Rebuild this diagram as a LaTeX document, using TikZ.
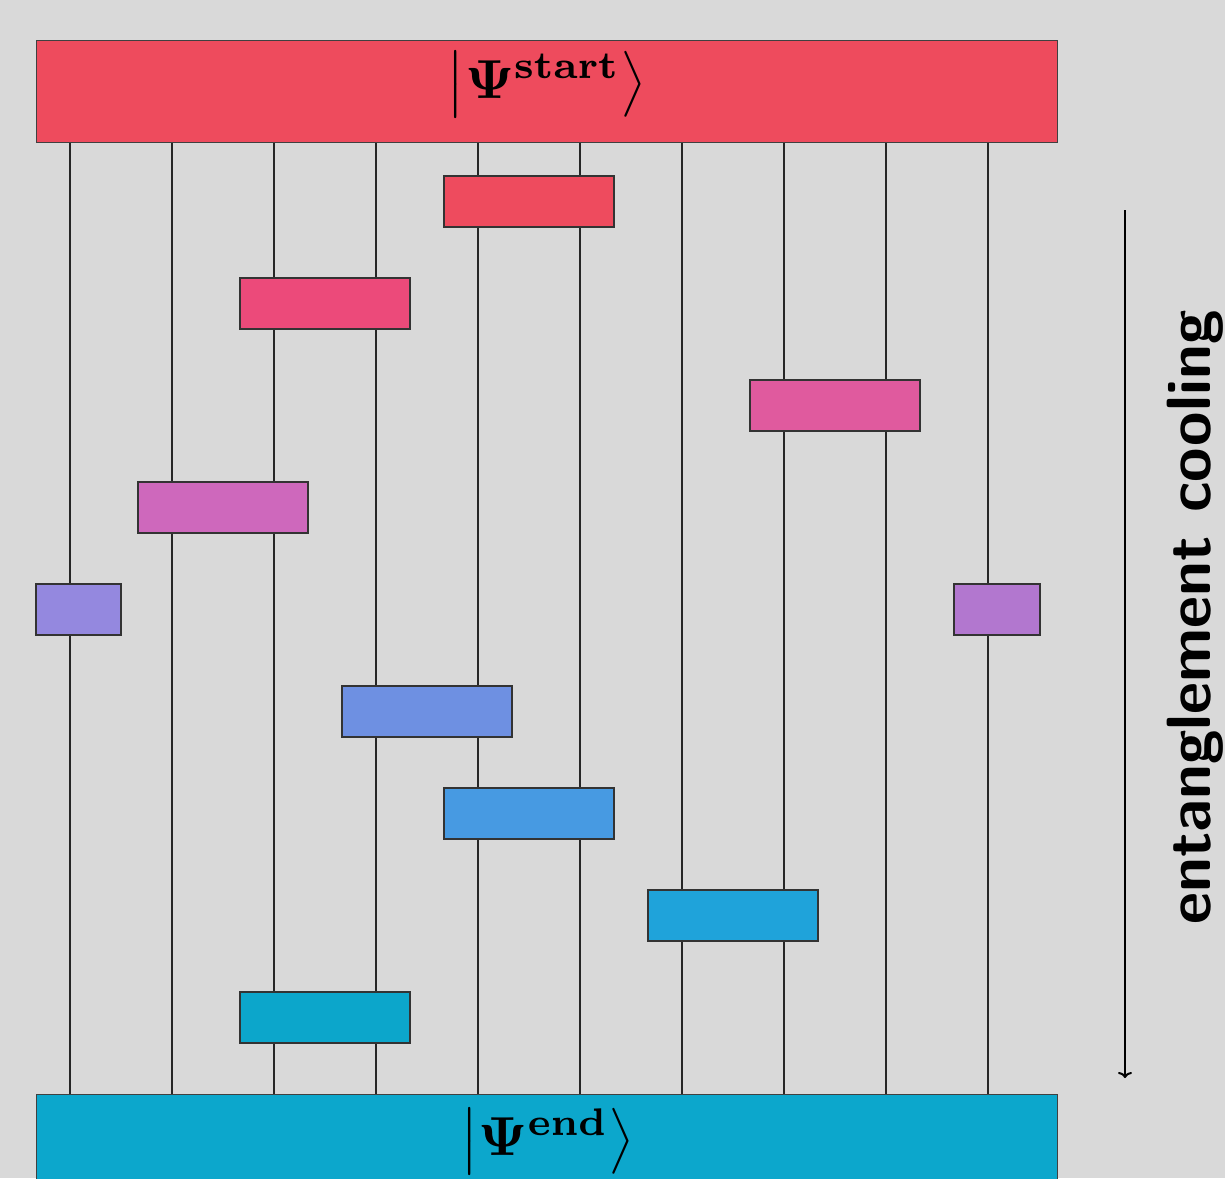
\documentclass[tikz,border=0pt]{standalone}
\usepackage{amsmath,bm}
\usetikzlibrary{arrows.meta}
\definecolor{bgc}{HTML}{D9D9D9}
\definecolor{cstart}{HTML}{EE4B5D}
\definecolor{cend}{HTML}{0CA7CC}
\definecolor{ga}{HTML}{EE4B5E}
\definecolor{gb}{HTML}{EC4A7A}
\definecolor{gc}{HTML}{E05A9E}
\definecolor{gd}{HTML}{CE68BC}
\definecolor{gel}{HTML}{9488DF}
\definecolor{ger}{HTML}{B277CF}
\definecolor{gf}{HTML}{6E90E2}
\definecolor{gg}{HTML}{479AE2}
\definecolor{gh}{HTML}{1FA3DA}
\definecolor{gi}{HTML}{0CA6CB}
\begin{document}
\begin{tikzpicture}[x=1pt,y=-1pt,
  wire/.style={line width=2.2pt, black!85},
  gate/.style={draw=black!80, line width=1.2pt, minimum width=170pt, minimum height=51pt, inner sep=0pt, outer sep=0pt},
  halfgate/.style={gate, minimum width=85pt},
  statebar/.style={draw=black!75, line width=1pt, minimum width=1021pt, minimum height=102pt, inner sep=0pt, outer sep=0pt},
  ketlabel/.style={anchor=base, scale=5.5, inner sep=0pt, font=\boldmath}]
\useasboundingbox (0,0) rectangle (1225,1178);
\fill[bgc] (0,0) rectangle (1225,1178);
\begin{scope}
\clip (0,0) rectangle (1225,1178);
% wires
\foreach \i in {0,...,9} {
  \coordinate (t\i) at (70+102*\i,142);
  \coordinate (b\i) at (70+102*\i,1094);
  \draw[wire] (t\i) -- (b\i);
}
% state bars
\node[statebar, fill=cstart] (start) at (546.5,91) {};
\node[statebar, fill=cend] (end) at (546.5,1145) {};
% gates
\node[gate, fill=ga] (g1) at (529,201.5) {};
\node[gate, fill=gb] (g2) at (325,303.5) {};
\node[gate, fill=gc] (g3) at (835,405.5) {};
\node[gate, fill=gd] (g4) at (223,507.5) {};
\node[halfgate, fill=gel] (g5a) at (78.5,609.5) {};
\node[halfgate, fill=ger, minimum width=86pt] (g5b) at (997,609.5) {};
\node[gate, fill=gf] (g6) at (427,711.5) {};
\node[gate, fill=gg] (g7) at (529,813.5) {};
\node[gate, fill=gh] (g8) at (733,915.5) {};
\node[gate, fill=gi] (g9) at (325,1017.5) {};
% labels
\node[ketlabel] (ls) at (546.5,98) {$\bigl|\bm{\Psi}^{\mathbf{start}}\bigr\rangle$};
\node[ketlabel] (le) at (547.5,1155) {$\bigl|\bm{\Psi}^{\mathbf{end}}\bigr\rangle$};
% arrow
\coordinate (as) at (1125,210);
\coordinate (ae) at (1125,1078);
\draw[line width=2pt, -{To[length=6pt,width=14pt]}] (as) -- (ae);
\node[rotate=90, anchor=base, scale=6.25, inner sep=0pt, font=\sffamily\bfseries] (lbl) at (1210,617.5) {entanglement cooling};
\end{scope}
\end{tikzpicture}
\end{document}
